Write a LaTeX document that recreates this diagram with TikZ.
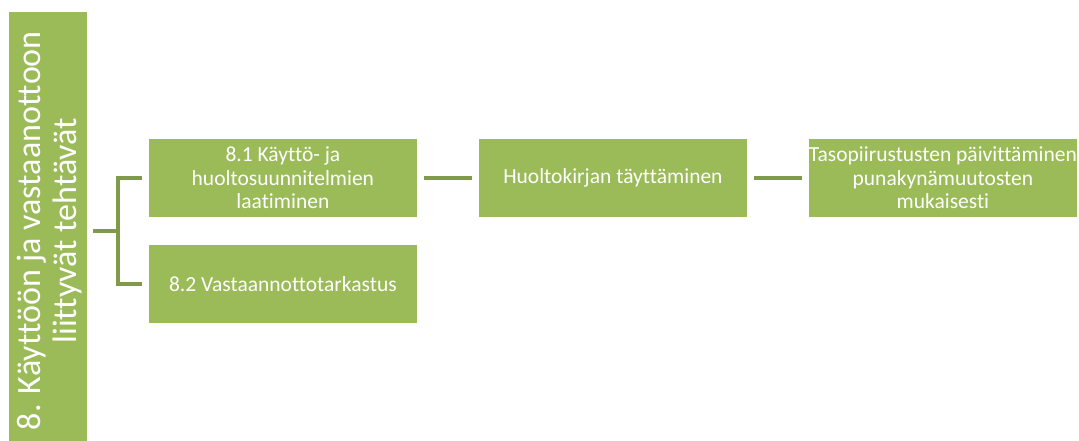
\documentclass[tikz,border=0pt]{standalone}
\usepackage{fontspec}
\setmainfont[Ligatures={NoCommon}]{Carlito}
\definecolor{boxgreen}{HTML}{9BBB59}
\definecolor{linegreen}{HTML}{7F9A48}
\begin{document}
\begin{tikzpicture}[x=1pt,y=-1pt,
  task/.style={fill=boxgreen, draw=white, line width=0.8pt, minimum width=269pt, minimum height=79pt, inner sep=1pt,
    text=white, align=center, font=\fontsize{21.5}{23.5}\selectfont, anchor=north west},
  conn/.style={draw=linegreen, line width=4.5pt}]
\useasboundingbox (0,0) rectangle (1079,441);
\node[fill=boxgreen, minimum width=78pt, minimum height=429pt, inner sep=0pt, anchor=north west] (main) at (9,12) {};
\node[rotate=90, text=white, align=center, font=\fontsize{34}{36}\selectfont] (maintext) at ([yshift=-4pt,xshift=1pt]main.center) {8. Käyttöön ja vastaanottoon\\liittyvät tehtävät};
\node[task] (a) at (148,138) {8.1 Käyttö- ja\\huoltosuunnitelmien\\laatiminen};
\node[task] (b) at (148,244) {8.2 Vastaannottotarkastus};
\node[task] (c) at (478,138) {Huoltokirjan täyttäminen};
\node[task, inner sep=0pt] (d) at (808,138) {Tasopiirustusten päivittäminen\\punakynämuutosten\\mukaisesti};
\coordinate (j) at (118,231);
\draw[conn] ([xshift=6pt]main.east |- j) -- (j);
\draw[conn] ([xshift=-6pt]a.west) -| (j) |- ([xshift=-6pt]b.west);
\draw[conn] ([xshift=6pt]a.east) -- ([xshift=-6pt]c.west);
\draw[conn] ([xshift=6pt]c.east) -- ([xshift=-6pt]d.west);
\end{tikzpicture}
\end{document}
